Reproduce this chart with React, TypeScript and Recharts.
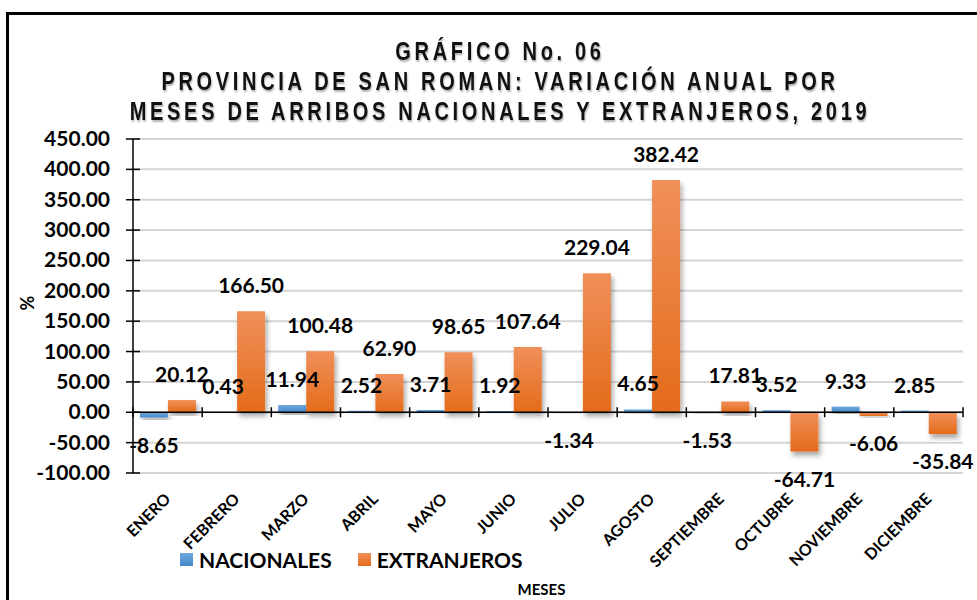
import React from "react";
import {
  BarChart,
  Bar,
  XAxis,
  YAxis,
  CartesianGrid,
  ReferenceLine,
  LabelList,
} from "recharts";

const MONTHS = [
  "ENERO",
  "FEBRERO",
  "MARZO",
  "ABRIL",
  "MAYO",
  "JUNIO",
  "JULIO",
  "AGOSTO",
  "SEPTIEMBRE",
  "OCTUBRE",
  "NOVIEMBRE",
  "DICIEMBRE",
];
const NACIONALES = [-8.65, 0.43, 11.94, 2.52, 3.71, 1.92, -1.34, 4.65, -1.53, 3.52, 9.33, 2.85];
const EXTRANJEROS = [20.12, 166.5, 100.48, 62.9, 98.65, 107.64, 229.04, 382.42, 17.81, -64.71, -6.06, -35.84];
const Y_TICKS = [-100, -50, 0, 50, 100, 150, 200, 250, 300, 350, 400, 450];

const TITLE_LINES = [
  "GRÁFICO No. 06",
  "PROVINCIA DE SAN ROMAN: VARIACIÓN ANUAL POR",
  "MESES DE ARRIBOS NACIONALES Y EXTRANJEROS, 2019",
];

const SERIES = [
  { key: "nac", name: "NACIONALES", light: "#6FA8DE", dark: "#4788C9", grad: "gradNac" },
  { key: "ext", name: "EXTRANJEROS", light: "#F0905A", dark: "#E46B1B", grad: "gradExt" },
];

const FONT = "Lato, 'Open Sans', sans-serif";
const TITLE_FONT = "'Liberation Sans', Arial, sans-serif";

const data = MONTHS.map((m, i) => ({ mes: m, nac: NACIONALES[i], ext: EXTRANJEROS[i] }));

const fmt = (v: number) => v.toFixed(2);

function BarLabel(props: any) {
  const { x, y, width, height, value } = props;
  const top = Math.min(y, y + height);
  const bottom = Math.max(y, y + height);
  const cx = x + width / 2;
  const cy = value >= 0 ? top - 25 : bottom + 28;
  return (
    <text
      x={cx}
      y={cy + 7}
      textAnchor="middle"
      fontFamily={FONT}
      fontWeight={700}
      fontSize={21}
      fill="#000"
    >
      {fmt(value)}
    </text>
  );
}

function YTick(props: any) {
  const { x, y, payload } = props;
  const axisX = x + 23;
  return (
    <g>
      <line x1={axisX - 7} x2={axisX + 7} y1={y} y2={y} stroke="#000" strokeWidth={1.5} />
      <text
        x={x}
        y={y + 7}
        textAnchor="end"
        fontFamily={FONT}
        fontWeight={700}
        fontSize={21}
        fill="#000"
      >
        {fmt(payload.value)}
      </text>
    </g>
  );
}

function XTick(props: any) {
  const { x, y, payload } = props;
  const ax = x + 4;
  const ay = y + 27;
  return (
    <text
      x={ax}
      y={ay}
      textAnchor="end"
      transform={`rotate(-45 ${ax} ${ay})`}
      fontFamily={FONT}
      fontWeight={700}
      fontSize={16}
      fill="#000"
    >
      {payload.value}
    </text>
  );
}

// zero line with tick marks at category boundaries
function ZeroAxis(props: any) {
  const { x1, x2, y1 } = props;
  const n = MONTHS.length;
  const step = (x2 - x1) / n;
  return (
    <g>
      <line x1={x1} x2={x2} y1={y1} y2={y1} stroke="#000" strokeWidth={1.5} />
      {Array.from({ length: n + 1 }, (_, i) => (
        <line
          key={i}
          x1={x1 + i * step}
          x2={x1 + i * step}
          y1={y1 - 5}
          y2={y1 + 5}
          stroke="#000"
          strokeWidth={1.5}
        />
      ))}
    </g>
  );
}

export default function App() {
  return (
    <div
      style={{
        position: "absolute",
        left: 0,
        top: 0,
        width: 977,
        height: 600,
        overflow: "hidden",
        background: "#fff",
        fontFamily: FONT,
      }}
    >
      <div
        style={{
          position: "absolute",
          left: 6,
          top: 12,
          width: 1100,
          height: 700,
          border: "3px solid #000",
        }}
      />
      <div
        style={{
          position: "absolute",
          left: -100,
          width: 1200,
          top: 36,
          textAlign: "center",
          fontFamily: TITLE_FONT,
          fontWeight: 700,
          fontSize: 25,
          lineHeight: "30px",
          letterSpacing: 4.6,
          color: "#111",
          textShadow: "1px 2px 2px rgba(0,0,0,0.3)",
          whiteSpace: "nowrap",
          transform: "scaleX(0.8)",
          transformOrigin: "600px 0",
        }}
      >
        {TITLE_LINES.map((t) => (
          <div key={t}>{t}</div>
        ))}
      </div>
      <div style={{ position: "absolute", left: 0, top: 0 }}>
        <BarChart
          width={977}
          height={600}
          data={data}
          margin={{ top: 139, right: 14, left: 0, bottom: 27 }}
          barCategoryGap="10%"
          barGap={0}
        >
          <defs>
            {SERIES.map((s) => (
              <linearGradient key={s.grad} id={s.grad} x1="0" y1="0" x2="0" y2="1">
                <stop offset="0%" stopColor={s.light} />
                <stop offset="100%" stopColor={s.dark} />
              </linearGradient>
            ))}
            <filter id="barShadow" x="-20%" y="-20%" width="150%" height="150%">
              <feDropShadow dx="2" dy="4" stdDeviation="2.5" floodColor="#000" floodOpacity="0.35" />
            </filter>
          </defs>
          <CartesianGrid vertical={false} stroke="#D4D4D4" strokeWidth={2} />
          <XAxis
            dataKey="mes"
            axisLine={false}
            tickLine={false}
            tickSize={0}
            tickMargin={0}
            height={100}
            interval={0}
            tick={<XTick />}
          />
          <YAxis
            width={133}
            domain={[-100, 450]}
            ticks={Y_TICKS}
            interval={0}
            axisLine={{ stroke: "#000", strokeWidth: 1.5 }}
            tickLine={false}
            tickSize={0}
            tickMargin={23}
            tick={<YTick />}
          />
          {SERIES.map((s) => (
            <Bar
              key={s.key}
              dataKey={s.key}
              name={s.name}
              fill={`url(#${s.grad})`}
              filter="url(#barShadow)"
              isAnimationActive={false}
            >
              <LabelList dataKey={s.key} content={<BarLabel />} />
            </Bar>
          ))}
          <ReferenceLine y={0} shape={<ZeroAxis />} />
        </BarChart>
      </div>
      <div
        style={{
          position: "absolute",
          left: 180,
          top: 547,
          display: "flex",
          alignItems: "center",
          fontFamily: FONT,
          fontWeight: 700,
          fontSize: 21,
          color: "#000",
        }}
      >
        {SERIES.map((s, i) => (
          <div
            key={s.key}
            style={{ display: "flex", alignItems: "center", marginRight: i === 0 ? 26 : 0 }}
          >
            <div
              style={{
                width: 13,
                height: 13,
                marginRight: 6,
                background: `linear-gradient(${s.light}, ${s.dark})`,
              }}
            />
            <span>{s.name}</span>
          </div>
        ))}
      </div>
      <div
        style={{
          position: "absolute",
          left: 0,
          width: 1083,
          top: 580,
          textAlign: "center",
          fontFamily: FONT,
          fontWeight: 700,
          fontSize: 15,
        }}
      >
        MESES
      </div>
      <div
        style={{
          position: "absolute",
          left: 27,
          top: 303,
          transform: "translate(-50%, -50%) rotate(-90deg)",
          fontFamily: FONT,
          fontWeight: 700,
          fontSize: 18,
        }}
      >
        %
      </div>
    </div>
  );
}
